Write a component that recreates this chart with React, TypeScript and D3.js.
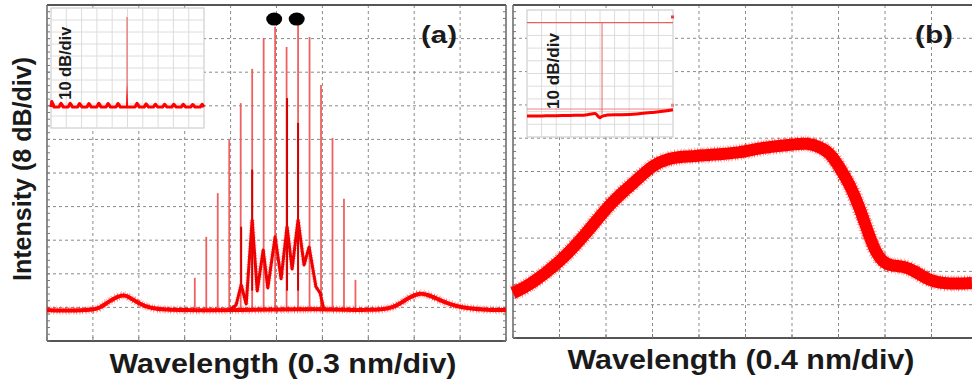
import React from "react";
import * as d3 from "d3";

// ---- panel (a): values in grid divisions (x 0-10, y 0-10) ----
const combX = [3.22, 3.47, 3.72, 3.97, 4.22, 4.47, 4.72, 4.97, 5.22, 5.47, 5.72, 5.97, 6.22, 6.47, 6.72];
const combTop = [1.88, 3.1, 4.4, 5.98, 7.08, 8.1, 9.02, 9.35, 8.75, 9.46, 9.05, 7.62, 6.04, 4.23, 1.82];
const markedX = [4.95, 5.44];
const markedY = 9.58;

const baseX = [0, 0.5, 1.0, 1.15, 1.35, 1.55, 1.68, 1.8, 2.0, 2.25, 2.6, 3.0, 3.5, 3.97, 6.03, 6.5, 7.0, 7.45, 7.65, 7.9, 8.1, 8.3, 8.55, 8.95, 9.5, 10];
const baseY = [0.92, 0.9, 0.92, 0.98, 1.18, 1.33, 1.37, 1.3, 1.12, 0.97, 0.93, 0.92, 0.91, 0.92, 0.95, 0.93, 0.92, 0.95, 1.08, 1.3, 1.43, 1.38, 1.22, 1.0, 0.93, 0.92];

// continuum under the comb, with cusp peaks and valleys
const contX = [3.97, 4.12, 4.23, 4.34, 4.47, 4.58, 4.71, 4.81, 4.97, 5.1, 5.23, 5.34, 5.47, 5.6, 5.71, 5.86, 5.95, 6.03];
const contY = [0.92, 1.07, 1.67, 1.1, 3.6, 1.49, 2.71, 1.58, 3.1, 1.85, 3.4, 2.14, 3.6, 2.26, 2.8, 1.61, 1.43, 0.95];
// narrow dark spikes rising out of the continuum
const darkX = [4.23, 4.47, 5.23, 5.47];
const darkTop = [3.4, 5.1, 7.23, 6.49];

// inset (a)
const insetABase = 1.75;
const insetABumpX = [0.05, 0.65, 1.25, 1.87, 2.48, 3.12, 3.73, 4.38, 5.62, 6.22, 6.82, 7.42, 8.02, 8.64, 9.26, 9.88];
const insetABumpH = [0.45, 0.3, 0.3, 0.28, 0.28, 0.3, 0.28, 0.28, 0.3, 0.25, 0.22, 0.22, 0.22, 0.22, 0.2, 0.22];
const insetASpikeX = 4.97;
const insetASpikeTop = 9.25;
const insetAShoulder = 3.7;

// ---- panel (b) ----
const bX = [0, 0.37, 1.01, 1.55, 2.02, 2.41, 2.73, 3.01, 3.33, 3.59, 4.24, 4.88, 5.31, 5.96, 6.34, 6.6, 6.82, 7.03, 7.25, 7.46, 7.63, 7.78, 7.94, 8.15, 8.39, 8.65, 8.92, 9.29, 9.87];
const bY = [1.35, 1.59, 2.28, 3.09, 3.93, 4.44, 4.83, 5.2, 5.38, 5.44, 5.5, 5.56, 5.71, 5.8, 5.86, 5.74, 5.56, 5.11, 4.59, 3.9, 3.18, 2.64, 2.28, 2.16, 2.16, 2.01, 1.74, 1.62, 1.65];

// inset (b)
const insetBX = [0, 1, 2, 3, 4, 4.66, 4.9, 5.0, 5.1, 5.3, 5.5, 6.5, 7.5, 8.5, 9.3, 10];
const insetBY = [1.65, 1.66, 1.68, 1.7, 1.74, 1.85, 1.6, 1.52, 1.6, 1.68, 1.73, 1.76, 1.82, 1.92, 2.02, 2.15];
const insetBRefTop = 9.0;
const insetBRefLow = 2.2;
const insetBSpikeX = 5.14;

const divs = d3.range(0, 11);
const RED = "#ff0000";
const FONT = "'Liberation Sans', Arial, sans-serif";

type Sc = d3.ScaleLinear<number, number>;

function Frame({ x, y, rightBorder }: { x: Sc; y: Sc; rightBorder: boolean }) {
  const [x0, x1] = x.range();
  const [y1, y0] = y.range();
  const minor = d3.range(0, 50).map((i) => i / 5);
  return (
    <g>
      {divs.slice(1, 10).map((d) => (
        <line key={"gx" + d} x1={x(d)} x2={x(d)} y1={y0} y2={y1} stroke="#8a8a8a" strokeDasharray="3,3" />
      ))}
      {divs.slice(1, 10).map((d) => (
        <line key={"gy" + d} x1={x0} x2={x1} y1={y(d)} y2={y(d)} stroke="#8a8a8a" strokeDasharray="3,3" />
      ))}
      <line x1={x0} x2={x1} y1={y0} y2={y0} stroke="#555" strokeWidth={2} />
      <line x1={x0} x2={x1} y1={y1} y2={y1} stroke="#555" strokeWidth={2} />
      <line x1={x0} x2={x0} y1={y0} y2={y1} stroke="#666" strokeWidth={1.5} />
      {rightBorder && <line x1={x1} x2={x1} y1={y0} y2={y1} stroke="#666" strokeWidth={1.5} />}
      {minor.map((d) => (
        <line key={"ty" + d} x1={x0} x2={x0 + 3} y1={y(d)} y2={y(d)} stroke="#777" />
      ))}
      {rightBorder &&
        minor.map((d) => (
          <line key={"tr" + d} x1={x1} x2={x1 - 3} y1={y(d)} y2={y(d)} stroke="#777" />
        ))}
      {divs.map((d) => (
        <line key={"tx" + d} x1={x(d)} x2={x(d)} y1={y1} y2={y1 - 4} stroke="#777" />
      ))}
    </g>
  );
}

function InsetBox({ x, y }: { x: Sc; y: Sc }) {
  const [x0, x1] = x.range();
  const [y1, y0] = y.range();
  return (
    <g>
      <rect x={x0} y={y0} width={x1 - x0} height={y1 - y0} fill="#fff" stroke="#c4c4c4" />
      {divs.slice(1, 10).map((d) => (
        <line key={"ix" + d} x1={x(d)} x2={x(d)} y1={y0} y2={y1} stroke="#dcdcdc" />
      ))}
      {divs.slice(1, 10).map((d) => (
        <line key={"iy" + d} x1={x0} x2={x1} y1={y(d)} y2={y(d)} stroke="#dcdcdc" />
      ))}
    </g>
  );
}

// thick trace with a fuzzy, noise-like edge
function NoisyTrace({ d, width }: { d: string; width: number }) {
  return (
    <g>
      <path d={d} fill="none" stroke={RED} strokeWidth={width + 5} strokeDasharray="0.6,2.3,0.5,3.1" strokeOpacity={0.4} />
      <path d={d} fill="none" stroke={RED} strokeWidth={width + 2.5} strokeDasharray="0.6,1.7,0.7,2.6" strokeDashoffset={1} strokeOpacity={0.7} />
      <path d={d} fill="none" stroke={RED} strokeWidth={width} />
    </g>
  );
}

export default function App() {
  const ax = d3.scaleLinear().domain([0, 10]).range([47, 506]);
  const ay = d3.scaleLinear().domain([0, 10]).range([341, 5]);
  const bx = d3.scaleLinear().domain([0, 10]).range([513, 978]);
  const by = d3.scaleLinear().domain([0, 10]).range([338, 5]);
  const iax = d3.scaleLinear().domain([0, 10]).range([51, 204]);
  const iay = d3.scaleLinear().domain([0, 10]).range([128, 8]);
  const ibx = d3.scaleLinear().domain([0, 10]).range([527, 673]);
  const iby = d3.scaleLinear().domain([0, 10]).range([137, 10]);

  const mk = (xs: Sc, ys: Sc, curve: d3.CurveFactory) =>
    d3.line<[number, number]>().x((d) => xs(d[0])).y((d) => ys(d[1])).curve(curve);

  const basePath = mk(ax, ay, d3.curveBasis)(baseX.map((v, i) => [v, baseY[i]])) ?? "";
  const contPath = mk(ax, ay, d3.curveLinear)(contX.map((v, i) => [v, contY[i]])) ?? "";
  const bPath = mk(bx, by, d3.curveBasis)(bX.map((v, i) => [v, bY[i]])) ?? "";

  const insetAPts: [number, number][] = [[0, insetABase]];
  insetABumpX.forEach((p, i) => {
    insetAPts.push([Math.max(0, p - 0.13), insetABase], [p, insetABase + insetABumpH[i]], [Math.min(10, p + 0.16), insetABase]);
  });
  insetAPts.push([10, insetABase]);
  insetAPts.sort((a, b) => a[0] - b[0]);
  const insetAPath = mk(iax, iay, d3.curveLinear)(insetAPts) ?? "";
  const insetBPath = mk(ibx, iby, d3.curveMonotoneX)(insetBX.map((v, i) => [v, insetBY[i]])) ?? "";

  return (
    <svg width={972} height={379} style={{ position: "absolute", left: 0, top: 0, background: "#fff" }} fontFamily={FONT}>
      <rect width={972} height={379} fill="#fff" />

      {/* panel (a) */}
      <Frame x={ax} y={ay} rightBorder={true} />
      {combX.map((c, i) => (
        <line key={"c" + i} x1={ax(c)} x2={ax(c)} y1={ay(0.92)} y2={ay(combTop[i])} stroke="#f06060" strokeWidth={1.8} />
      ))}
      {darkX.map((c, i) => (
        <line key={"dk" + i} x1={ax(c)} x2={ax(c)} y1={ay(1.5)} y2={ay(darkTop[i])} stroke="#d40000" strokeWidth={2} />
      ))}
      <NoisyTrace d={basePath} width={4} />
      <path d={contPath} fill="none" stroke="#ee0000" strokeWidth={3} strokeLinejoin="round" />
      <path d={contPath} fill="none" stroke={RED} strokeWidth={5} strokeDasharray="0.6,2" strokeOpacity={0.5} />
      {markedX.map((m, i) => (
        <ellipse key={"m" + i} cx={ax(m)} cy={ay(markedY)} rx={8} ry={6.5} fill="#000" />
      ))}

      {/* inset (a) */}
      <InsetBox x={iax} y={iay} />
      <line x1={iax(insetASpikeX)} x2={iax(insetASpikeX)} y1={iay(insetABase)} y2={iay(insetASpikeTop)} stroke="#e86a6a" strokeWidth={1.2} />
      <path
        d={`M${iax(insetASpikeX - 0.07)},${iay(insetABase)}L${iax(insetASpikeX)},${iay(insetAShoulder)}L${iax(insetASpikeX + 0.07)},${iay(insetABase)}Z`}
        fill={RED}
      />
      <path d={insetAPath} fill="none" stroke={RED} strokeWidth={3.2} strokeLinejoin="round" />
      <text transform={`translate(71,${iay(5.4)}) rotate(-90)`} textAnchor="middle" fontSize={16} fontWeight="bold" fill="#1a1a1a" textLength={73} lengthAdjust="spacingAndGlyphs">
        10 dB/div
      </text>

      {/* panel (b) */}
      <Frame x={bx} y={by} rightBorder={false} />
      <NoisyTrace d={bPath} width={12} />

      {/* inset (b) */}
      <InsetBox x={ibx} y={iby} />
      <line x1={ibx(0)} x2={ibx(10)} y1={iby(insetBRefTop)} y2={iby(insetBRefTop)} stroke="#e84040" strokeWidth={1} />
      <line x1={ibx(0)} x2={ibx(10)} y1={iby(insetBRefLow)} y2={iby(insetBRefLow)} stroke="#f08080" strokeWidth={1} />
      <line x1={ibx(insetBSpikeX)} x2={ibx(insetBSpikeX)} y1={iby(insetBRefTop)} y2={iby(1.8)} stroke="#e86a6a" strokeWidth={1} />
      <rect x={ibx(10) - 2} y={iby(9.45) - 1.5} width={3} height={3} fill="#e84040" />
      <rect x={ibx(10) - 2} y={iby(2.5) - 1.5} width={3} height={3} fill="#f08080" />
      <path d={insetBPath} fill="none" stroke={RED} strokeWidth={3} />
      <text transform={`translate(559,${iby(5.2)}) rotate(-90)`} textAnchor="middle" fontSize={16} fontWeight="bold" fill="#1a1a1a" textLength={76} lengthAdjust="spacingAndGlyphs">
        10 dB/div
      </text>

      {/* labels */}
      <text x={439} y={43} textAnchor="middle" fontSize={23} fontWeight="bold" fill="#1a1a1a" textLength={36} lengthAdjust="spacingAndGlyphs">
        (a)
      </text>
      <text x={934} y={43} textAnchor="middle" fontSize={23} fontWeight="bold" fill="#1a1a1a" textLength={38} lengthAdjust="spacingAndGlyphs">
        (b)
      </text>
      <text transform="translate(31,169) rotate(-90)" textAnchor="middle" fontSize={25} fontWeight="bold" fill="#1a1a1a" textLength={224} lengthAdjust="spacingAndGlyphs">
        Intensity (8 dB/div)
      </text>
      <text x={283} y={373} textAnchor="middle" fontSize={27} fontWeight="bold" fill="#1a1a1a" textLength={347} lengthAdjust="spacingAndGlyphs">
        Wavelength (0.3 nm/div)
      </text>
      <text x={741} y={369} textAnchor="middle" fontSize={27} fontWeight="bold" fill="#1a1a1a" textLength={347} lengthAdjust="spacingAndGlyphs">
        Wavelength (0.4 nm/div)
      </text>
    </svg>
  );
}
